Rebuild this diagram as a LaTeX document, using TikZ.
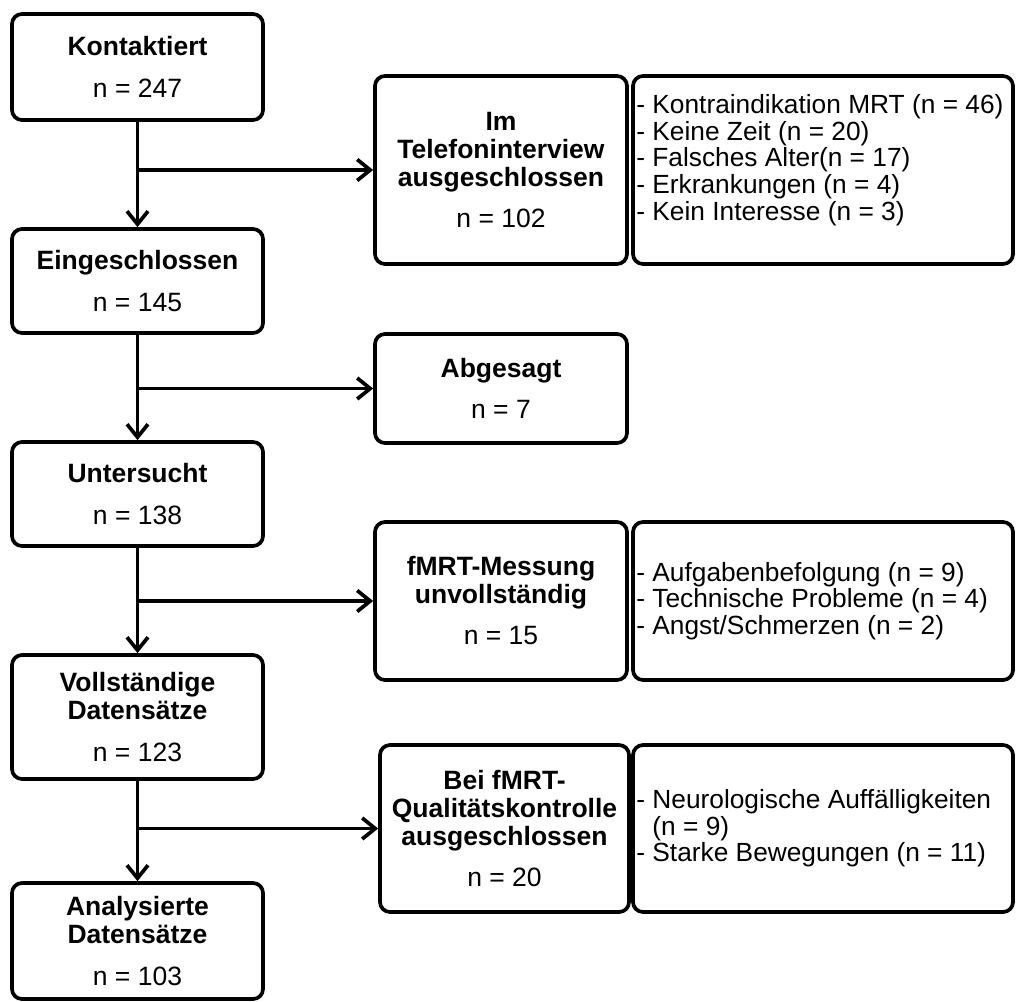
\documentclass[tikz,border=0pt]{standalone}
\usepackage{fontspec}
\setmainfont{Liberation Sans}
\usetikzlibrary{arrows.meta}

% box given by its corners (x1,y1) and (x2,y2), y grows downwards
\newcommand\flowbox[6]{%
  \node[stage, minimum width={#4-#2}, minimum height={#5-#3}]
    (#1) at ({(#2+#4)/2},{(#3+#5)/2}) {#6};}

\begin{document}
\begin{tikzpicture}[x=1pt, y=-1pt,
  stage/.style={draw, line width=3.7pt, rounded corners=10pt, align=center,
    inner sep=0pt, font=\fontsize{26.5}{28}\selectfont},
  reasons/.style={align=left, inner sep=0pt, font=\fontsize{26.3}{26.6}\selectfont},
  arr/.style={line width=3.7pt, -{Straight Barb[length=13pt,width=21pt]}}]

\useasboundingbox (0,0) rectangle (1016,1001);

% main column
\flowbox{K}{12}{14}{263}{120}{\textbf{Kontaktiert}\\[14pt]n = 247}
\flowbox{E}{12}{229}{263}{333}{\textbf{Eingeschlossen}\\[14pt]n = 145}
\flowbox{U}{12}{442}{263}{546}{\textbf{Untersucht}\\[14pt]n = 138}
\flowbox{V}{12}{655}{263}{779}{\textbf{Vollständige}\\\textbf{Datensätze}\\[14pt]n = 123}
\flowbox{A}{12}{883}{263}{999}{\textbf{Analysierte}\\\textbf{Datensätze}\\[14pt]n = 103}

% exclusions
\flowbox{T}{375}{76}{627}{264}{\textbf{Im}\\\textbf{Telefoninterview}\\\textbf{ausgeschlossen}\\[13pt]n = 102}
\flowbox{B}{375}{334}{627}{443}{\textbf{Abgesagt}\\[13pt]n = 7}
\flowbox{M}{375}{522}{627}{680}{\textbf{fMRT-Messung}\\\textbf{unvollständig}\\[13pt]n = 15}
\flowbox{Q}{380}{745}{629}{912}{\textbf{Bei fMRT-}\\\textbf{Qualitätskontrolle}\\\textbf{ausgeschlossen}\\[13pt]n = 20}

% reasons
\flowbox{L1}{633}{76}{1013}{264}{}
\flowbox{L2}{633}{522}{1013}{680}{}
\flowbox{L3}{633}{745}{1013}{912}{}

\node[reasons, anchor=west] (R1) at ([xshift=5pt, yshift=10pt]L1.west)
  {- Kontraindikation MRT (n = 46)\\- Keine Zeit (n = 20)\\- Falsches Alter(n = 17)\\- Erkrankungen (n = 4)\\- Kein Interesse (n = 3)};
\node[reasons, anchor=west] (R2) at ([xshift=5pt]L2.west)
  {- Aufgabenbefolgung (n = 9)\\- Technische Probleme (n = 4)\\- Angst/Schmerzen (n = 2)};
\node[reasons, anchor=west] (R3) at ([xshift=5pt]L3.west)
  {- Neurologische Auffälligkeiten\\\hphantom{-} (n = 9)\\- Starke Bewegungen (n = 11)};

% flow
\draw[arr] (K.south) -- (E.north);
\draw[arr] (E.south) -- (U.north);
\draw[arr] (U.south) -- (V.north);
\draw[arr] (V.south) -- (A.north);

\draw[arr] (K.south |- T.west) -- (T.west);
\draw[arr] (E.south |- B.west) -- (B.west);
\draw[arr] (U.south |- M.west) -- (M.west);
\draw[arr] (V.south |- Q.west) -- (Q.west);
\end{tikzpicture}
\end{document}
